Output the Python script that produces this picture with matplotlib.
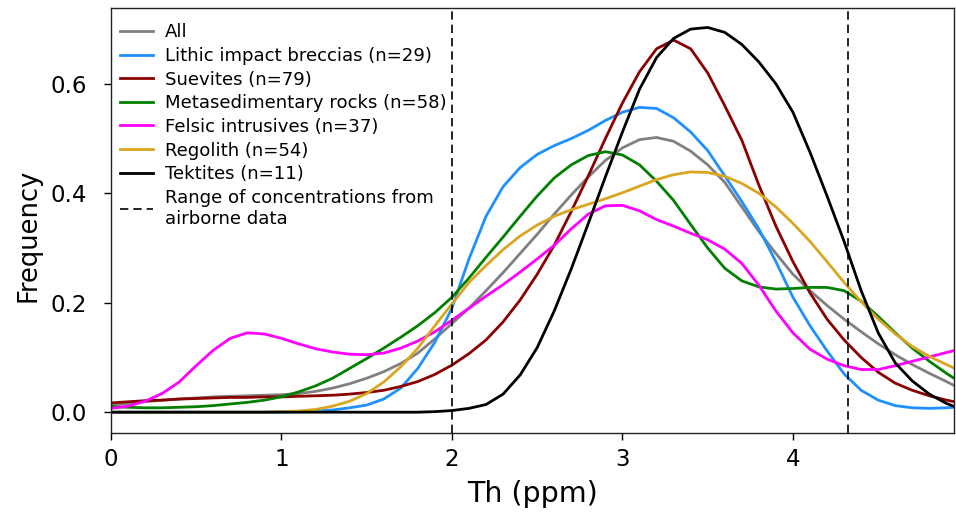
import numpy as np
import matplotlib
matplotlib.use("Agg")
import matplotlib.pyplot as plt

plt.rcParams['font.family'] = ['DejaVu Sans']

# Th concentration grid (ppm) and density estimates
th = [0.0, 0.1, 0.2, 0.3, 0.4, 0.5, 0.6, 0.7, 0.8, 0.9,
      1.0, 1.1, 1.2, 1.3, 1.4, 1.5, 1.6, 1.7, 1.8, 1.9,
      2.0, 2.1, 2.2, 2.3, 2.4, 2.5, 2.6, 2.7, 2.8, 2.9,
      3.0, 3.1, 3.2, 3.3, 3.4, 3.5, 3.6, 3.7, 3.8, 3.9,
      4.0, 4.1, 4.2, 4.3, 4.4, 4.5, 4.6, 4.7, 4.8, 4.9, 4.95]

all_samples = [0.013, 0.016, 0.019, 0.022, 0.024, 0.026, 0.028, 0.029, 0.030, 0.031,
               0.032, 0.034, 0.038, 0.044, 0.052, 0.062, 0.074, 0.089, 0.108, 0.134,
               0.162, 0.190, 0.222, 0.255, 0.290, 0.325, 0.362, 0.397, 0.430, 0.460,
               0.483, 0.498, 0.502, 0.495, 0.477, 0.452, 0.420, 0.375, 0.330, 0.290,
               0.252, 0.222, 0.195, 0.170, 0.147, 0.125, 0.105, 0.087, 0.071, 0.056, 0.048]

lithic = [0.0, 0.0, 0.0, 0.0, 0.0, 0.0, 0.0, 0.0, 0.0, 0.0,
          0.0005, 0.001, 0.002, 0.004, 0.008, 0.013, 0.024, 0.044, 0.080, 0.128,
          0.190, 0.280, 0.358, 0.412, 0.447, 0.471, 0.487, 0.500, 0.515, 0.533,
          0.548, 0.557, 0.555, 0.538, 0.512, 0.478, 0.432, 0.385, 0.335, 0.275,
          0.210, 0.158, 0.112, 0.070, 0.040, 0.022, 0.012, 0.008, 0.007, 0.008, 0.009]

suevites = [0.017, 0.019, 0.021, 0.022, 0.024, 0.025, 0.026, 0.027, 0.027, 0.028,
            0.028, 0.029, 0.030, 0.031, 0.033, 0.036, 0.040, 0.047, 0.056, 0.069,
            0.086, 0.107, 0.132, 0.165, 0.205, 0.252, 0.305, 0.367, 0.432, 0.500,
            0.565, 0.622, 0.664, 0.680, 0.664, 0.620, 0.560, 0.497, 0.415, 0.340,
            0.275, 0.218, 0.170, 0.132, 0.100, 0.073, 0.053, 0.040, 0.030, 0.022, 0.019]

metased = [0.010, 0.009, 0.008, 0.008, 0.009, 0.010, 0.012, 0.015, 0.018, 0.022,
           0.028, 0.037, 0.048, 0.062, 0.080, 0.098, 0.117, 0.137, 0.158, 0.182,
           0.210, 0.245, 0.283, 0.320, 0.358, 0.395, 0.428, 0.452, 0.469, 0.476,
           0.470, 0.452, 0.422, 0.387, 0.343, 0.300, 0.263, 0.240, 0.229, 0.225,
           0.226, 0.228, 0.228, 0.222, 0.203, 0.175, 0.145, 0.117, 0.093, 0.071, 0.061]

felsic = [0.007, 0.011, 0.020, 0.034, 0.055, 0.085, 0.113, 0.135, 0.145, 0.143,
          0.135, 0.125, 0.116, 0.110, 0.106, 0.105, 0.108, 0.117, 0.130, 0.147,
          0.168, 0.190, 0.212, 0.233, 0.256, 0.280, 0.305, 0.335, 0.362, 0.377,
          0.378, 0.368, 0.352, 0.340, 0.327, 0.315, 0.298, 0.272, 0.232, 0.185,
          0.145, 0.115, 0.097, 0.085, 0.078, 0.078, 0.085, 0.093, 0.101, 0.109, 0.113]

regolith = [0.0, 0.0, 0.0, 0.0, 0.0, 0.0, 0.0, 0.0, 0.0, 0.0,
            0.001, 0.002, 0.005, 0.011, 0.020, 0.034, 0.055, 0.083, 0.117, 0.158,
            0.198, 0.237, 0.268, 0.297, 0.322, 0.342, 0.358, 0.370, 0.380, 0.390,
            0.401, 0.413, 0.425, 0.434, 0.439, 0.438, 0.431, 0.418, 0.400, 0.375,
            0.345, 0.312, 0.275, 0.237, 0.202, 0.170, 0.143, 0.120, 0.102, 0.087, 0.080]

tektites = [0.0, 0.0, 0.0, 0.0, 0.0, 0.0, 0.0, 0.0, 0.0, 0.0,
            0.0, 0.0, 0.0, 0.0, 0.0, 0.0, 0.0, 0.0, 0.0, 0.001,
            0.003, 0.007, 0.014, 0.033, 0.068, 0.118, 0.185, 0.262, 0.345, 0.430,
            0.512, 0.590, 0.648, 0.683, 0.700, 0.703, 0.694, 0.672, 0.640, 0.600,
            0.548, 0.475, 0.395, 0.312, 0.222, 0.145, 0.090, 0.057, 0.033, 0.016, 0.010]

labels = ["All", "Lithic impact breccias (n=29)", "Suevites (n=79)",
          "Metasedimentary rocks (n=58)", "Felsic intrusives (n=37)",
          "Regolith (n=54)", "Tektites (n=11)"]
colors = ["gray", "dodgerblue", "darkred", "green", "magenta", "goldenrod", "black"]
series = [all_samples, lithic, suevites, metased, felsic, regolith, tektites]

# airborne range limits
airborne = [2.0, 4.32]


def main():
    fig = plt.figure(figsize=(9.56, 5.17), dpi=100)
    ax = fig.add_axes([0.116, 0.1625, 0.882, 0.8225])

    for ys, lab, col in zip(series, labels, colors):
        ax.plot(th, ys, color=col, lw=2, label=lab, solid_joinstyle="round")

    for i, xv in enumerate(airborne):
        ax.axvline(xv, color="black", lw=1.2, dashes=(5, 3),
                   label="Range of concentrations from\nairborne data" if i == 0 else None)

    ax.set_xlim(0, 4.945)
    ax.set_ylim(-0.038, 0.739)
    ax.set_xticks([0, 1, 2, 3, 4])
    ax.set_yticks([0.0, 0.2, 0.4, 0.6])
    ax.set_yticklabels(["0.0", "0.2", "0.4", "0.6"])
    ax.tick_params(labelsize=16.5, length=5, width=1)
    ax.tick_params(axis="y", pad=12)
    ax.tick_params(axis="x", pad=6)
    for s in ax.spines.values():
        s.set_linewidth(1)
        s.set_color("#222222")

    ax.set_xlabel("Th (ppm)", fontsize=20.5, labelpad=6)
    ax.set_ylabel("Frequency", fontsize=18.5)
    ax.yaxis.set_label_coords(-0.082, 0.465)

    ax.legend(loc="upper left", bbox_to_anchor=(0.006, 0.972), frameon=False,
              fontsize=13.1, handlelength=1.85, handletextpad=0.65,
              labelspacing=0.31, borderaxespad=0.0, borderpad=0.2)

    fig.savefig("out.png", dpi=100)


if __name__ == "__main__":
    main()
